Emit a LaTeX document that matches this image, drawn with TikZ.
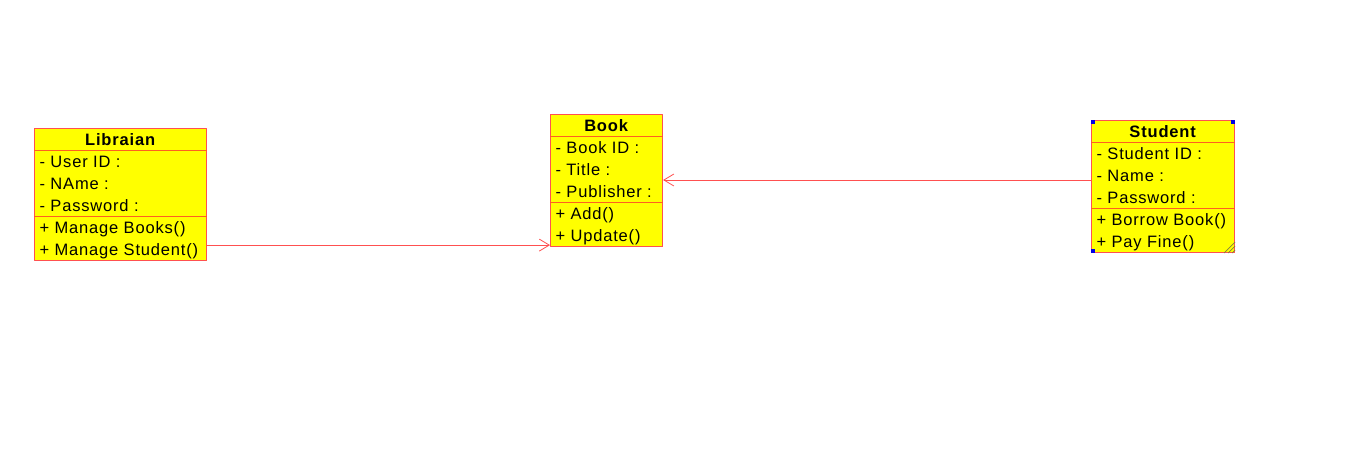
\documentclass[tikz,border=0pt]{standalone}
\usepackage{fontspec}
\setmainfont{Liberation Sans}[LetterSpace=5]
\usetikzlibrary{shapes.multipart,arrows.meta}
\definecolor{umlfill}{RGB}{255,255,0}
\definecolor{umlline}{RGB}{255,80,80}
\definecolor{umlsplit}{RGB}{255,96,32}
\definecolor{umlhandle}{RGB}{0,0,230}
\definecolor{umlgrip}{RGB}{128,128,64}
\newcommand\rowstrut{\rule[-5pt]{0pt}{22pt}}
\begin{document}
\begin{tikzpicture}[x=1pt, y=-1pt, line join=round, >={Straight Barb[length=10pt,width=12pt]}]
	\tikzset{umlclass/.style={rectangle split, rectangle split parts=3, rectangle split part align={center,left,left},
			rectangle split draw splits=false, draw=umlline, fill=umlfill, line width=1.1pt, align=left,
			inner xsep=5pt, inner ysep=-0.55pt, anchor=north west, font=\fontsize{16.5}{22}\selectfont},
		splitline/.style={umlsplit, line width=1pt},
		assoc/.style={->, umlline, line width=0.8pt}}
	\useasboundingbox (0,0) rectangle (1364,452);
	\node[umlclass, minimum width=172pt] (lib) at (34,128)
		{\rowstrut\textbf{Libraian}
		\nodepart{two}\rowstrut- User ID :\\\rowstrut- NAme :\\\rowstrut- Password :
		\nodepart{three}\rowstrut+ Manage Books()\\\rowstrut+ Manage Student()};
	\node[umlclass, minimum width=112pt] (book) at (550,114)
		{\rowstrut\textbf{Book}
		\nodepart{two}\rowstrut- Book ID :\\\rowstrut- Title :\\\rowstrut- Publisher :
		\nodepart{three}\rowstrut+ Add()\\\rowstrut+ Update()};
	\node[umlclass, minimum width=143pt] (stu) at (1091,120)
		{\rowstrut\textbf{Student}
		\nodepart{two}\rowstrut- Student ID :\\\rowstrut- Name :\\\rowstrut- Password :
		\nodepart{three}\rowstrut+ Borrow Book()\\\rowstrut+ Pay Fine()};
	\foreach \c in {lib,book,stu} {
		\draw[splitline] (\c.text split west) -- (\c.text split east);
		\draw[splitline] (\c.two split west) -- (\c.two split east);
	}
	\coordinate (libout) at ([yshift=16pt]lib.south east);
	\coordinate (stuout) at ([yshift=-60pt]stu.north west);
	\draw[assoc] (libout) -- (libout -| book.west);
	\draw[assoc] (stuout) -- (stuout -| book.east);
	\fill[umlhandle] (stu.north west) rectangle ++(4,4);
	\fill[umlhandle] (stu.north east) rectangle ++(-4,4);
	\fill[umlhandle] (stu.south west) rectangle ++(4,-4);
	\foreach \d in {3,7,11}
		\draw[umlgrip, line width=0.7pt] ([xshift=-\d pt]stu.south east) -- ([yshift=\d pt]stu.south east);
\end{tikzpicture}
\end{document}
